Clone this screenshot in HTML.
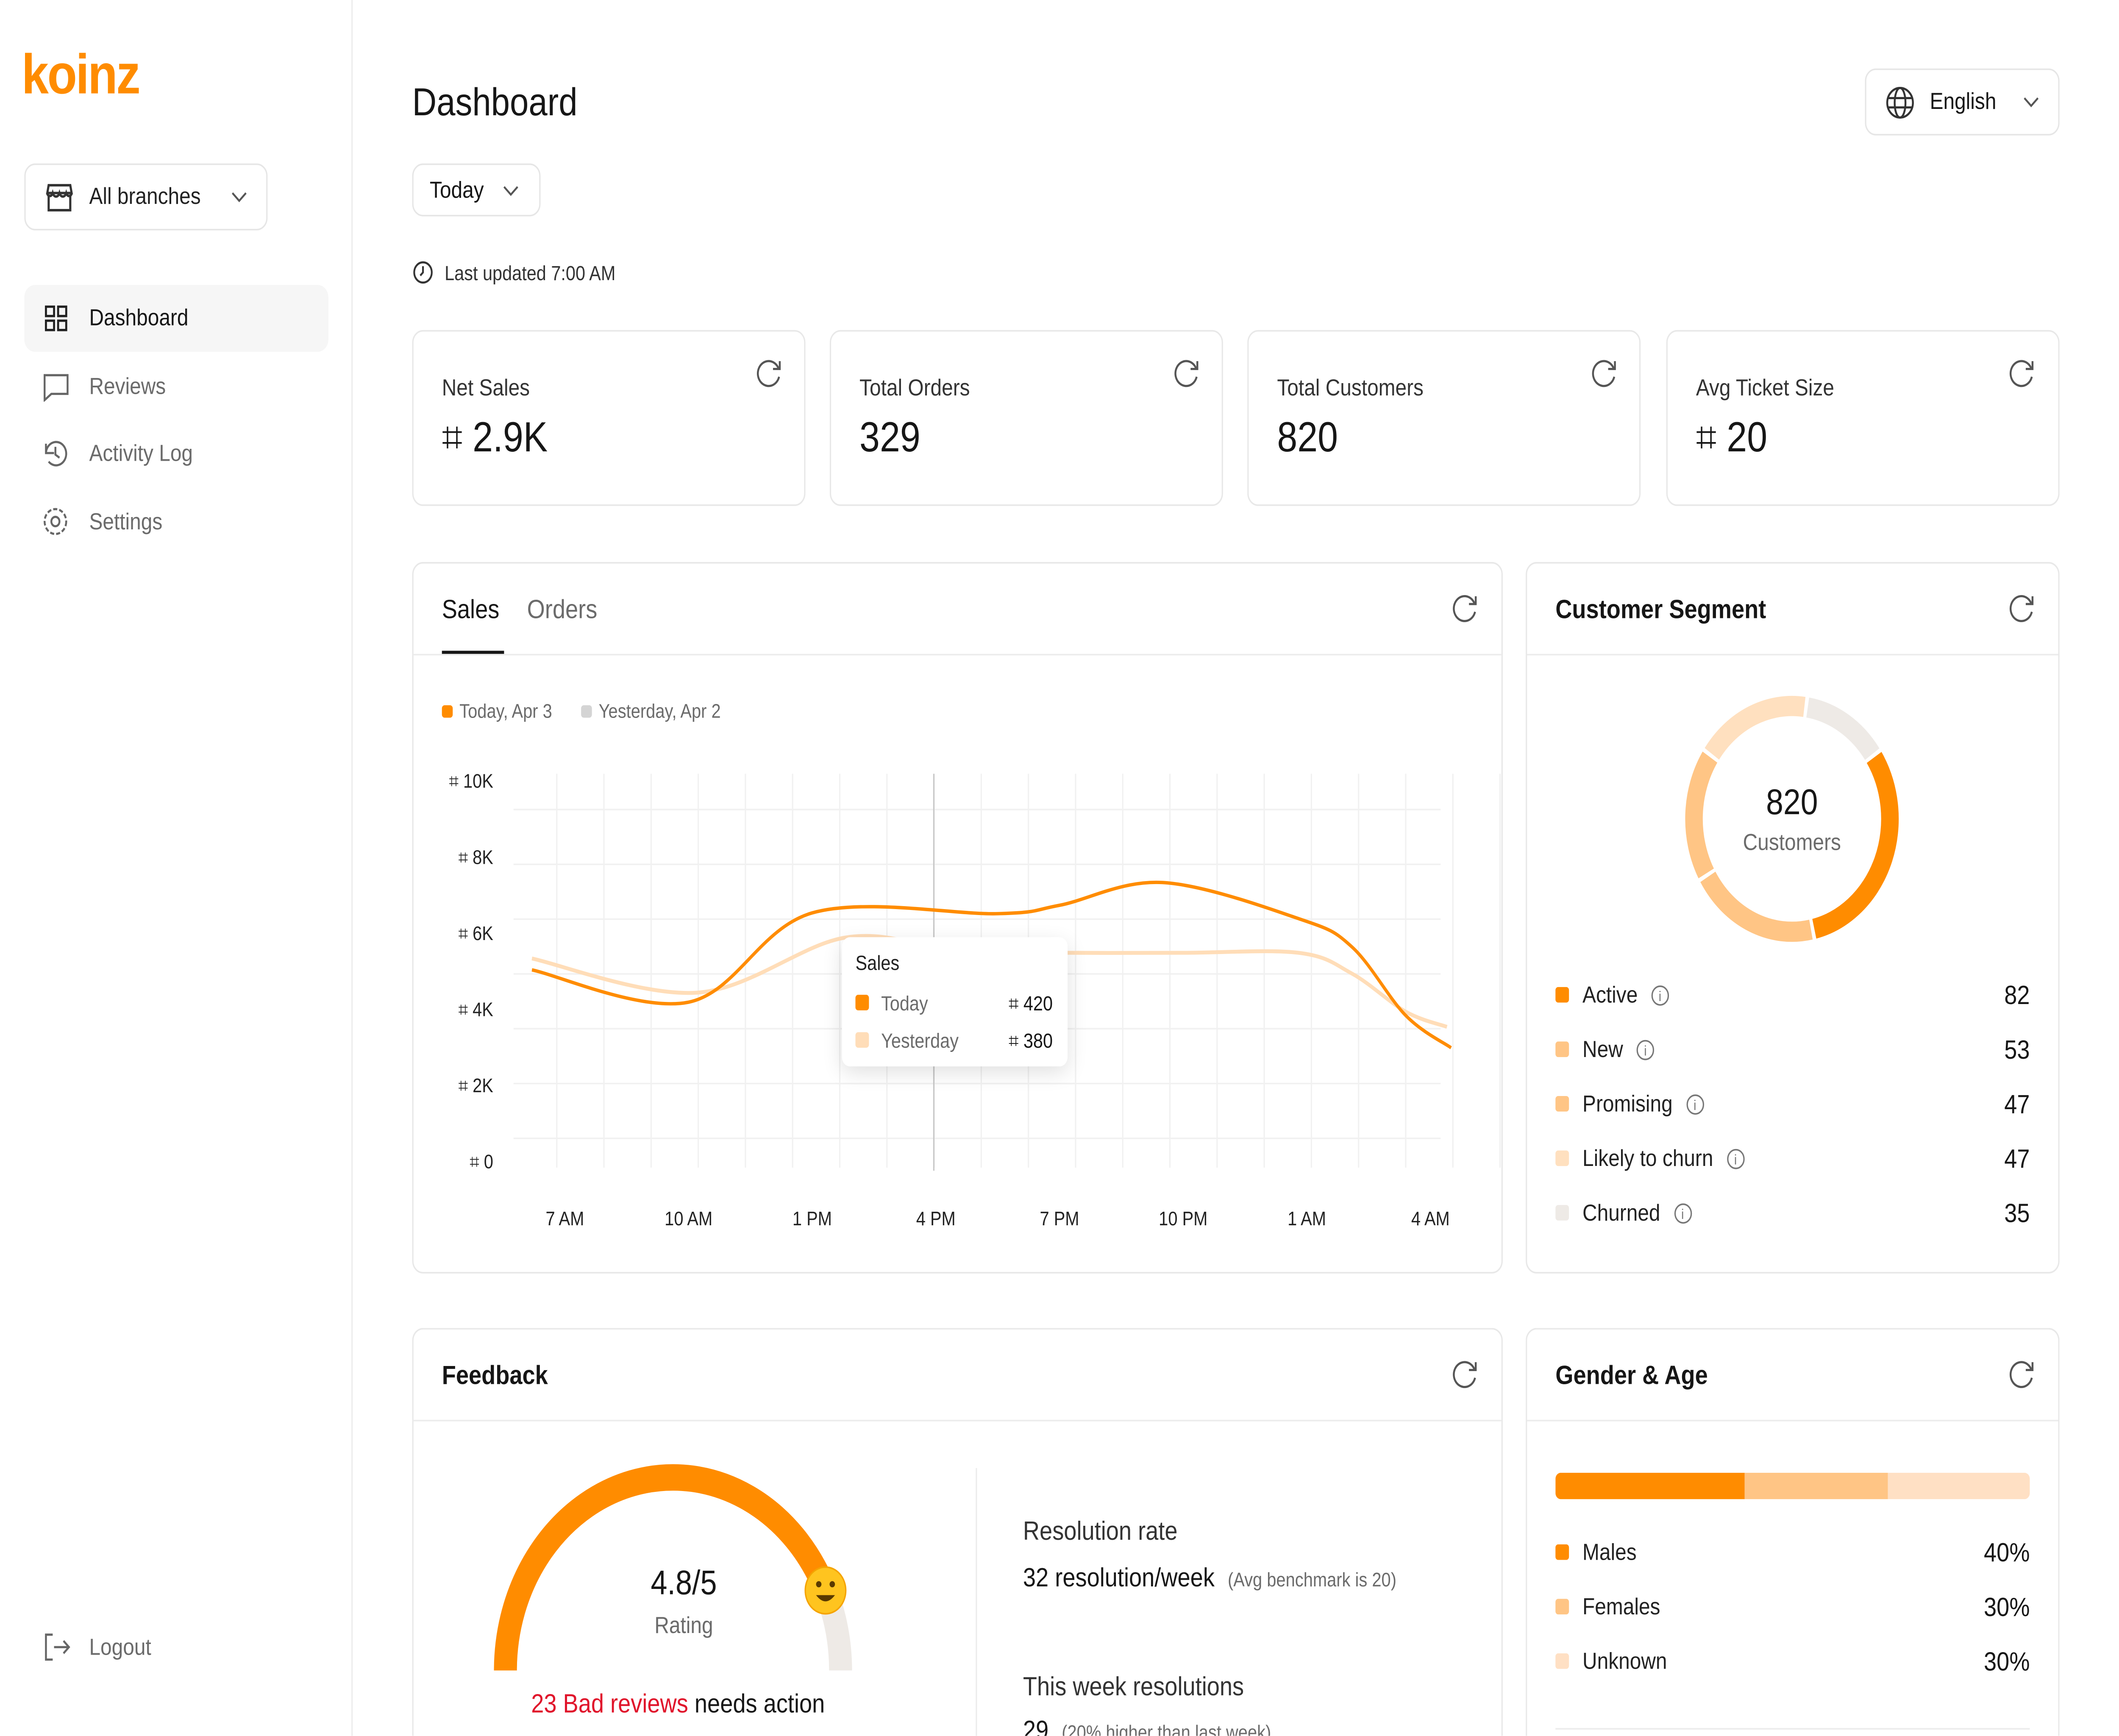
<!DOCTYPE html>
<html><head><meta charset="utf-8">
<style>
*{box-sizing:border-box;margin:0;padding:0}
html,body{width:100%;height:100%;overflow:hidden;background:#fff}
body{font-family:"Liberation Sans",sans-serif;color:#161616}
#root{position:absolute;left:0;top:0;width:1567px;height:1115px;transform:scale(3.67346);transform-origin:0 0;background:#fff;overflow:hidden}
.abs{position:absolute}
.card{position:absolute;border:1px solid #e8e8e8;border-radius:8px;background:#fff}
.t{position:absolute;white-space:nowrap;line-height:1}
.gray{color:#6b6b6b}
.dd{position:absolute;border:1px solid #e6e6e6;border-radius:8px;background:#fff}
.sq{position:absolute;width:10px;height:10px;border-radius:2px}
.info{display:inline-block;width:13px;height:13px;border:1px solid #777;border-radius:50%;font-size:9px;text-align:center;line-height:12px;color:#777;margin-left:10px;vertical-align:top;margin-top:1px}
</style></head>
<body>
<div id="root">

<div class="abs" style="left:0;top:0;width:261px;height:1115px;border-right:1px solid #ececec"></div>
<div class="t" style="left:16px;top:30px;font-size:36px;font-weight:bold;color:#FF8C00;letter-spacing:-1px">koinz</div>
<div class="dd" style="left:18px;top:105px;width:180px;height:43px">
  <svg class="abs" style="left:14px;top:11px" width="22" height="20" viewBox="0 0 22 20"><path d="M3 2h16l1 5H2zM3 8v10h16V8M2 7c0 2 3 3 4 0c1 3 4 3 5 0c1 3 4 3 5 0c1 3 4 2 4 0" fill="none" stroke="#333" stroke-width="1.6"/></svg>
  <div class="t" style="left:47px;top:13px;font-size:15px;color:#222">All branches</div>
  <svg class="abs" style="left:152px;top:17px" width="12" height="8"><path d="M1 1l5 5 5-5" fill="none" stroke="#555" stroke-width="1.3"/></svg>
</div>
<div class="abs" style="left:18px;top:183px;width:225px;height:43px;background:#f6f6f6;border-radius:8px"></div>
<svg class="abs" style="left:33px;top:196px" width="17" height="17"><g fill="none" stroke="#222" stroke-width="1.5"><rect x="1" y="1" width="6" height="6"/><rect x="10" y="1" width="6" height="6"/><rect x="1" y="10" width="6" height="6"/><rect x="10" y="10" width="6" height="6"/></g></svg>
<div class="t" style="left:66px;top:197px;font-size:15px;color:#161616">Dashboard</div>
<svg class="abs" style="left:32px;top:240px" width="19" height="18"><path d="M1 1h17v12H6l-5 4z" fill="none" stroke="#666" stroke-width="1.4"/></svg>
<div class="t gray" style="left:66px;top:241px;font-size:15px">Reviews</div>
<svg class="abs" style="left:31px;top:282px" width="20" height="19"><path d="M3 9.5a7.5 7.5 0 1 1 2 5M3 3v6h6M10 5v5l3 2" fill="none" stroke="#666" stroke-width="1.4"/></svg>
<div class="t gray" style="left:66px;top:284px;font-size:15px">Activity Log</div>
<svg class="abs" style="left:31px;top:325px" width="20" height="20"><circle cx="10" cy="10" r="3" fill="none" stroke="#666" stroke-width="1.4"/><circle cx="10" cy="10" r="8" fill="none" stroke="#666" stroke-width="1.4" stroke-dasharray="3 1.5"/></svg>
<div class="t gray" style="left:66px;top:328px;font-size:15px">Settings</div>
<svg class="abs" style="left:32px;top:1049px" width="20" height="18"><path d="M7 1H2v16h5M8 9h11M15 5l4 4-4 4" fill="none" stroke="#666" stroke-width="1.4"/></svg>
<div class="t gray" style="left:66px;top:1051px;font-size:15px">Logout</div>

<div class="t" style="left:305px;top:54px;font-size:25px;font-weight:500">Dashboard</div>
<div class="dd" style="left:1380px;top:44px;width:144px;height:43px">
  <svg class="abs" style="left:14px;top:10px" width="22" height="22"><g fill="none" stroke="#333" stroke-width="1.4"><circle cx="11" cy="11" r="9.5"/><ellipse cx="11" cy="11" rx="4" ry="9.5"/><path d="M2 8h18M2 14h18"/></g></svg>
  <div class="t" style="left:47px;top:13px;font-size:15px">English</div>
  <svg class="abs" style="left:116px;top:17px" width="12" height="8"><path d="M1 1l5 5 5-5" fill="none" stroke="#555" stroke-width="1.3"/></svg>
</div>
<div class="dd" style="left:305px;top:105px;width:95px;height:34px">
  <div class="t" style="left:12px;top:9px;font-size:15px">Today</div>
  <svg class="abs" style="left:66px;top:13px" width="12" height="8"><path d="M1 1l5 5 5-5" fill="none" stroke="#555" stroke-width="1.3"/></svg>
</div>
<svg class="abs" style="left:305px;top:167px" width="16" height="16"><circle cx="8" cy="8" r="6.5" fill="none" stroke="#333" stroke-width="1.3"/><path d="M8 4v4l-2 2" fill="none" stroke="#333" stroke-width="1.3"/></svg>
<div class="t" style="left:329px;top:169px;font-size:13px;color:#333">Last updated 7:00 AM</div>

<div class="card" style="left:305px;top:361px;width:807px;height:457px"></div>
<div class="abs" style="left:306px;top:420px;width:805px;height:1px;background:#ececec"></div>
<div class="t" style="left:327px;top:383px;font-size:17px;color:#161616">Sales</div>
<div class="abs" style="left:327px;top:418px;width:46px;height:2px;background:#161616"></div>
<div class="t gray" style="left:390px;top:383px;font-size:17px">Orders</div>
<div class="sq" style="left:327px;top:453px;width:8px;height:8px;background:#FF8C00"></div>
<div class="t gray" style="left:340px;top:451px;font-size:12.5px">Today, Apr 3</div>
<div class="sq" style="left:430px;top:453px;width:8px;height:8px;background:#d4d4d4"></div>
<div class="t gray" style="left:443px;top:451px;font-size:12.5px">Yesterday, Apr 2</div>
<svg id="chart" class="abs" style="left:0;top:0" width="1200" height="1115"></svg>
<div class="abs" style="left:623px;top:602px;width:167px;height:83px;background:#fff;border-radius:6px;box-shadow:0 4px 14px rgba(0,0,0,0.12)">
  <div class="t" style="left:10px;top:10px;font-size:13px;color:#222">Sales</div>
  <div class="sq" style="left:10px;top:37px;background:#FF8C00"></div>
  <div class="t gray" style="left:29px;top:36px;font-size:13px">Today</div>
  <div class="t" style="right:11px;top:36px;font-size:13px">⌗ 420</div>
  <div class="sq" style="left:10px;top:61px;background:#FFDDB8"></div>
  <div class="t gray" style="left:29px;top:60px;font-size:13px">Yesterday</div>
  <div class="t" style="right:11px;top:60px;font-size:13px">⌗ 380</div>
</div>

<div class="card" style="left:1129px;top:361px;width:395px;height:457px"></div>
<div class="abs" style="left:1130px;top:420px;width:393px;height:1px;background:#ececec"></div>
<div class="t" style="left:1151px;top:383px;font-size:17px;font-weight:bold">Customer Segment</div>
<svg id="donut" class="abs" style="left:1246px;top:446px" width="160" height="160"></svg>
<div class="t" style="left:1226px;top:504px;width:200px;text-align:center;font-size:23px;font-weight:500">820</div>
<div class="t gray" style="left:1226px;top:534px;width:200px;text-align:center;font-size:15px">Customers</div>

<div class="card" style="left:305px;top:853px;width:807px;height:262px;border-bottom:none;border-radius:8px 8px 0 0"></div>
<div class="abs" style="left:306px;top:912px;width:805px;height:1px;background:#ececec"></div>
<div class="t" style="left:327px;top:875px;font-size:17px;font-weight:bold">Feedback</div>
<svg id="gauge" class="abs" style="left:0;top:0" width="1200" height="1115"></svg>
<div class="t" style="left:406px;top:1006px;width:200px;text-align:center;font-size:22px;font-weight:500">4.8/5</div>
<div class="t gray" style="left:406px;top:1037px;width:200px;text-align:center;font-size:15px">Rating</div>
<div class="t" style="left:393px;top:1086px;font-size:17px;color:#161616"><span style="color:#E0142B">23 Bad reviews</span> needs action</div>
<div class="abs" style="left:722px;top:943px;width:1px;height:172px;background:#ececec"></div>
<div class="t" style="left:757px;top:975px;font-size:17px;color:#333">Resolution rate</div>
<div class="t" style="left:757px;top:1005px;font-size:17px;font-weight:500">32 resolution/week <span style="font-size:12.5px;color:#6b6b6b;font-weight:normal;margin-left:5px">(Avg benchmark is 20)</span></div>
<div class="t" style="left:757px;top:1075px;font-size:17px;color:#333">This week resolutions</div>
<div class="t" style="left:757px;top:1103px;font-size:17px;font-weight:500">29 <span style="font-size:12.5px;color:#6b6b6b;font-weight:normal;margin-left:5px">(20% higher than last week)</span></div>

<div class="card" style="left:1129px;top:853px;width:395px;height:262px;border-bottom:none;border-radius:8px 8px 0 0"></div>
<div class="abs" style="left:1130px;top:912px;width:393px;height:1px;background:#ececec"></div>
<div class="t" style="left:1151px;top:875px;font-size:17px;font-weight:bold">Gender &amp; Age</div>
<div id="genderBar" class="abs" style="left:1151px;top:946px;width:351px;height:17px;border-radius:4px;overflow:hidden"></div>
<div class="abs" style="left:1151px;top:1110px;width:351px;height:1px;background:#ececec"></div>
</div>

<script>
// ---------- data ----------
const kpiLabels = ["Net Sales","Total Orders","Total Customers","Avg Ticket Size"];
const kpiValues = ["⌗ 2.9K","329","820","⌗ 20"];
const xTickLabels = ["7 AM","10 AM","1 PM","4 PM","7 PM","10 PM","1 AM","4 AM"];
const yTickLabels = ["⌗ 10K","⌗ 8K","⌗ 6K","⌗ 4K","⌗ 2K","⌗ 0"];
const yTickValues = [10,8,6,4,2,0];
const todayHours = [-0.8, 3, 6, 10.5, 12, 14.5, 17.8, 19.1, 20.4, 21.5];
const todaySales = [5.0, 4.15, 6.5, 6.48, 6.7, 7.3, 6.35, 5.6, 3.8, 2.95];
const yesterdayHours = [-0.8, 3.2, 6.8, 9.5, 12.2, 15, 17.8, 19.1, 20.4, 21.4];
const yesterdaySales = [5.3, 4.4, 5.85, 5.5, 5.45, 5.45, 5.45, 4.9, 3.9, 3.5];
const segNames = ["Active","New","Promising","Likely to churn","Churned"];
const segValues = [82,53,47,47,35];
const genderNames = ["Males","Females","Unknown"];
const genderValues = [40,30,30];
const ratingValue = 4.8;
const ratingMax = 5;

const NS="http://www.w3.org/2000/svg";
const root=document.getElementById('root');
// fit design canvas (1568x1115) to the actual viewport on both axes
(function(){
  const w=window.innerWidth||document.documentElement.clientWidth||5760;
  const h=window.innerHeight||document.documentElement.clientHeight||4096;
  root.style.transform='scale('+(w/1568)+','+(h/1115.1)+')';
})();
function mk(tag,attrs,parent){const e=document.createElementNS(NS,tag);for(const k in attrs)e.setAttribute(k,attrs[k]);parent.appendChild(e);return e;}
function div(style,text,parent){const d=document.createElement('div');d.style.cssText=style;if(text!=null)d.textContent=text;(parent||root).appendChild(d);return d;}

const kpiX=[305,614,923,1233];
kpiLabels.forEach((l,i)=>{
  const c=div(`position:absolute;left:${kpiX[i]}px;top:212px;width:291px;height:113px;border:1px solid #e8e8e8;border-radius:8px;background:#fff`);
  
  
  const a=div(`position:absolute;left:21px;top:29px;font-size:15px;color:#333;white-space:nowrap;line-height:1`,l,c);
  
  
  const b=div(`position:absolute;left:21px;top:55px;font-size:27px;font-weight:500;white-space:nowrap;line-height:1`,kpiValues[i],c);
  
  
});

const refreshPos=[[569,240],[878,240],[1187,240],[1496,240],[1084,391],[1496,391],[1084,883],[1496,883]];
const rs=mk('svg',{width:1520,height:1115,style:'position:absolute;left:0;top:0'},root);
refreshPos.forEach(p=>{
  const g=mk('path',{d:`M${p[0]+7} ${p[1]-3.5}A8 8 0 1 0 ${p[0]+7.5} ${p[1]+2}`,fill:'none',stroke:'#555','stroke-width':1.4},rs);
  
  
  mk('path',{d:`M${p[0]+8} ${p[1]-8}v5h-5`,fill:'none',stroke:'#555','stroke-width':1.4},rs);
});

const svg=document.getElementById('chart');
const X=h=>418+30.5*h;
const Y=v=>745-24.4*v;
for(let i=0;i<21;i++){const x=412+i*34.9;const l=mk('line',{x1:x,y1:497,x2:x,y2:750,stroke:'#f1f1f1','stroke-width':1},svg);}
for(let i=0;i<7;i++){const y=520+i*35.2;const l=mk('line',{x1:380,y1:y,x2:1066,y2:y,stroke:'#f1f1f1','stroke-width':1},svg);}
mk('line',{x1:691,y1:497,x2:691,y2:752,stroke:'#c8c8c8','stroke-width':1},svg);
yTickLabels.forEach((t,i)=>{const e=mk('text',{x:365,y:506+i*48.9,'text-anchor':'end','font-size':12.5,fill:'#222','font-family':'Liberation Sans'},svg);e.textContent=t;});
xTickLabels.forEach((t,i)=>{const e=mk('text',{x:X(i*3),y:787,'text-anchor':'middle','font-size':12.5,fill:'#222','font-family':'Liberation Sans'},svg);e.textContent=t;});
function spline(hs,vs){
  const p=hs.map((h,i)=>[X(h),Y(vs[i])]);let d=`M${p[0][0]} ${p[0][1]}`;
  for(let i=0;i<p.length-1;i++){
    const p0=p[i-1]||p[i],p1=p[i],p2=p[i+1],p3=p[i+2]||p2;
    const t=0.17;
    const c1=[p1[0]+(p2[0]-p0[0])*t,p1[1]+(p2[1]-p0[1])*t];
    const c2=[p2[0]-(p3[0]-p1[0])*t,p2[1]-(p3[1]-p1[1])*t];
    d+=`C${c1[0]} ${c1[1]} ${c2[0]} ${c2[1]} ${p2[0]} ${p2[1]}`;
  }
  return d;
}
const ly=mk('path',{d:spline(yesterdayHours,yesterdaySales),fill:'none',stroke:'#FFDDB8','stroke-width':2.5},svg);


const lt=mk('path',{d:spline(todayHours,todaySales),fill:'none',stroke:'#FF8C00','stroke-width':2.2},svg);



const dn=document.getElementById('donut');
const segColors=["#FF8C00","#FFC585","#FFC585","#FFE0BF","#EEEAE6"];
const total=segValues.reduce((a,b)=>a+b,0);
let ang=56;const cx=80,cy=80,r=72.5;
function pt(a){const rad=(a-90)*Math.PI/180;return [cx+r*Math.cos(rad),cy+r*Math.sin(rad)];}
segValues.forEach((v,i)=>{
  const span=v/total*360;const a0=ang+1,a1=ang+span-1;const s=pt(a0),e=pt(a1);
  const p=mk('path',{d:`M${s[0]} ${s[1]}A${r} ${r} 0 ${span>180?1:0} 1 ${e[0]} ${e[1]}`,fill:'none',stroke:segColors[i],'stroke-width':13},dn);
  
  
  ang+=span;
});
segNames.forEach((n,i)=>{
  const y=632+i*35;
  const s=div(`position:absolute;left:1151px;top:${y+2}px;width:10px;height:10px;border-radius:2px;background:${segColors[i]}`);
  
  
  const t=div(`position:absolute;left:1171px;top:${y}px;font-size:15px;line-height:15px;white-space:nowrap;color:#222`,n);
  
  
  const ic=document.createElement('span');ic.className='info';ic.textContent='i';t.appendChild(ic);
  
  
  const v=div(`position:absolute;right:${1567-1502}px;top:${y-1}px;font-size:17px;line-height:1;font-weight:500`,String(segValues[i]));
  
  
});

const gs=document.getElementById('gauge');
const gcx=498,gcy=1073,gr=124;
const gp=a=>[gcx+gr*Math.cos(a),gcy-gr*Math.sin(a)];
const endA=Math.PI*(1-ratingValue/ratingMax*0.9);
const e0=gp(Math.PI),e1=gp(endA),e2=gp(0);
const gb=mk('path',{d:`M${e1[0]} ${e1[1]}A${gr} ${gr} 0 0 1 ${e2[0]} ${e2[1]}`,fill:'none',stroke:'#EEEAE6','stroke-width':17},gs);


const gf=mk('path',{d:`M${e0[0]} ${e0[1]}A${gr} ${gr} 0 0 1 ${e1[0]} ${e1[1]}`,fill:'none',stroke:'#FF8C00','stroke-width':17},gs);


const em=mk('g',{},gs);


mk('circle',{cx:e1[0],cy:e1[1],r:15,fill:'#FFC41F',stroke:'#F5A300','stroke-width':1},em);
mk('circle',{cx:e1[0]-5,cy:e1[1]-4,r:2,fill:'#5a3a00'},em);
mk('circle',{cx:e1[0]+5,cy:e1[1]-4,r:2,fill:'#5a3a00'},em);
mk('path',{d:`M${e1[0]-7} ${e1[1]+3}Q${e1[0]} ${e1[1]+11} ${e1[0]+7} ${e1[1]+3}Z`,fill:'#5a3a00'},em);

const gcol=["#FF8C00","#FFC585","#FFE0C4"];
const gtot=genderValues.reduce((a,b)=>a+b,0);
const gbar=document.getElementById('genderBar');
genderValues.forEach((v,i)=>{
  const s=div(`float:left;height:17px;width:${v/gtot*351}px;background:${gcol[i]}`,null,gbar);
  
  
  const y=990+i*35;
  const sq=div(`position:absolute;left:1151px;top:${y+2}px;width:10px;height:10px;border-radius:2px;background:${gcol[i]}`);
  
  
  const t=div(`position:absolute;left:1171px;top:${y}px;font-size:15px;line-height:1;color:#222`,genderNames[i]);
  
  
  const p=div(`position:absolute;right:${1567-1502}px;top:${y-1}px;font-size:17px;line-height:1;font-weight:500`,v+'%');
  
  
});
</script>
</body></html>
